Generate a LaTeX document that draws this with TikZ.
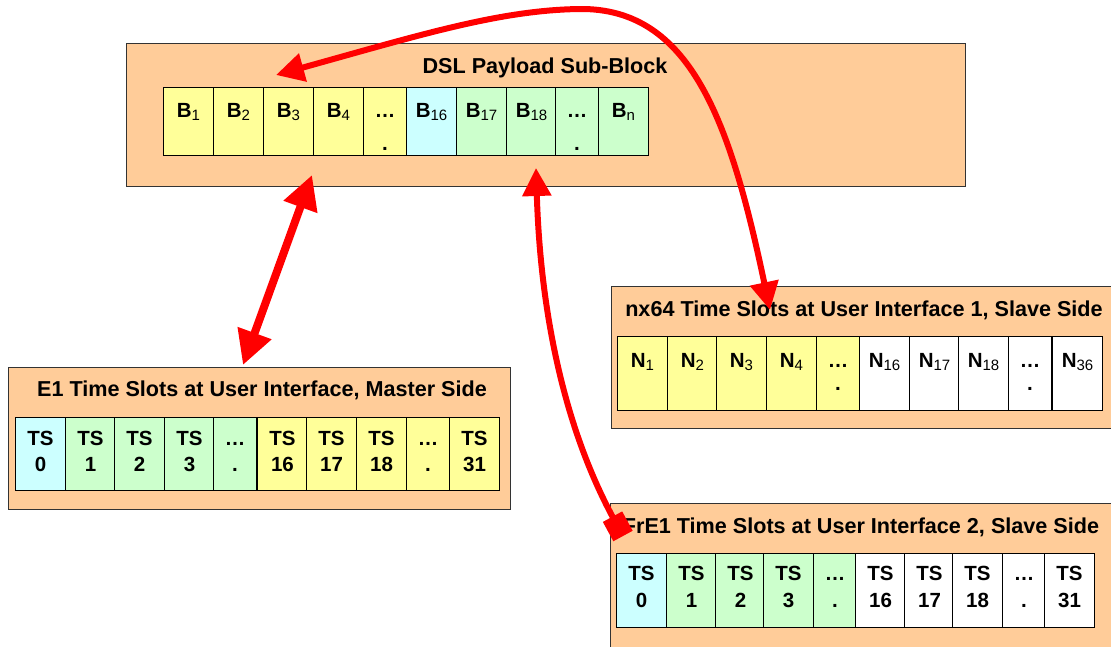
\documentclass[tikz,border=0pt]{standalone}
\usepackage{fontspec}
\setmainfont{Liberation Sans}
\usetikzlibrary{arrows.meta, positioning}

\definecolor{slotorange}{HTML}{FFCC99}
\definecolor{slotyellow}{HTML}{FFFF99}
\definecolor{slotgreen}{HTML}{CCFFCC}
\definecolor{slotcyan}{HTML}{CCFFFF}

\newcommand{\subidx}[1]{\raisebox{-3pt}{\fontsize{15}{15}\selectfont\mdseries #1}}
\newcommand{\twolines}[2]{\begin{tabular}[t]{@{}c@{}}#1\\#2\end{tabular}}

\tikzset{
	block/.style={draw=black!80, line width=1.2pt, fill=slotorange, anchor=north west, inner sep=0pt},
	blocktitle/.style={font=\fontsize{21.6}{26}\selectfont\bfseries, anchor=base, inner sep=0pt},
	slot/.style={draw, line width=1pt, anchor=north west, inner sep=0pt, minimum width=50pt},
	narrow/.style={minimum width=43pt},
	dslslot/.style={slot, text height=30pt, text depth=38pt, font=\fontsize{20.5}{33}\selectfont\bfseries},
	eoneslot/.style={slot, text height=28pt, text depth=45pt, font=\fontsize{20.5}{26}\selectfont\bfseries},
	nxslot/.style={slot, text height=31pt, text depth=43pt, font=\fontsize{20.5}{23}\selectfont\bfseries},
	frslot/.style={slot, text height=27pt, text depth=47pt, font=\fontsize{20.5}{27}\selectfont\bfseries},
	link/.style={draw=red, line width=6pt, >={Triangle[length=28pt, width=28pt]}}
}

\begin{document}
\begin{tikzpicture}[x=1pt, y=-1pt]

	\useasboundingbox (0,0) rectangle (1111,646);
	\clip (0,0) rectangle (1111,646);

%payload sub-block
	\node [block, minimum width=839pt, minimum height=143pt] (dsl) at (126,43){};
	\node [blocktitle] (dsltitle) at (545,73){DSL Payload Sub-Block};
	\node [dslslot, fill=slotyellow] (b1) at (163,87){B\subidx{1}};
	\node [dslslot, fill=slotyellow] (b2) at (213,87){B\subidx{2}};
	\node [dslslot, fill=slotyellow] (b3) at (263,87){B\subidx{3}};
	\node [dslslot, fill=slotyellow] (b4) at (313,87){B\subidx{4}};
	\node [dslslot, narrow, fill=slotyellow] (bdotsA) at (363,87){\twolines{…}{.}};
	\node [dslslot, fill=slotcyan] (b16) at (406,87){B\subidx{16}};
	\node [dslslot, fill=slotgreen] (b17) at (456,87){B\subidx{17}};
	\node [dslslot, fill=slotgreen] (b18) at (506,87){B\subidx{18}};
	\node [dslslot, narrow, fill=slotgreen] (bdotsB) at (555,87){\twolines{…}{.}};
	\node [dslslot, fill=slotgreen] (bn) at (598,87){B\subidx{n}};

%E1, master side
	\node [block, minimum width=502pt, minimum height=142pt] (eone) at (8,367){};
	\node [blocktitle] (eonetitle) at (262,396){E1 Time Slots at User Interface, Master Side};
	\node [eoneslot, fill=slotcyan] (ts0) at (15,417){\twolines{TS}{0}};
	\node [eoneslot, fill=slotgreen] (ts1) at (65,417){\twolines{TS}{1}};
	\node [eoneslot, fill=slotgreen] (ts2) at (114,417){\twolines{TS}{2}};
	\node [eoneslot, fill=slotgreen] (ts3) at (164,417){\twolines{TS}{3}};
	\node [eoneslot, narrow, fill=slotgreen] (tsdotsA) at (213,417){\twolines{…}{.}};
	\node [eoneslot, fill=slotyellow] (ts16) at (257,417){\twolines{TS}{16}};
	\node [eoneslot, fill=slotyellow] (ts17) at (306,417){\twolines{TS}{17}};
	\node [eoneslot, fill=slotyellow] (ts18) at (356,417){\twolines{TS}{18}};
	\node [eoneslot, narrow, fill=slotyellow] (tsdotsB) at (406,417){\twolines{…}{.}};
	\node [eoneslot, fill=slotyellow] (ts31) at (449,417){\twolines{TS}{31}};

%nx64, slave side
	\node [block, minimum width=520pt, minimum height=142pt] (nx) at (611,286){};
	\node [blocktitle] (nxtitle) at (864,316){nx64 Time Slots at User Interface 1, Slave Side};
	\node [nxslot, fill=slotyellow] (n1) at (617,336){N\subidx{1}};
	\node [nxslot, fill=slotyellow] (n2) at (667,336){N\subidx{2}};
	\node [nxslot, fill=slotyellow] (n3) at (716,336){N\subidx{3}};
	\node [nxslot, fill=slotyellow] (n4) at (766,336){N\subidx{4}};
	\node [nxslot, narrow, fill=slotyellow] (ndotsA) at (816,336){\twolines{…}{.}};
	\node [nxslot, fill=white] (n16) at (859,336){N\subidx{16}};
	\node [nxslot, fill=white] (n17) at (909,336){N\subidx{17}};
	\node [nxslot, fill=white] (n18) at (958,336){N\subidx{18}};
	\node [nxslot, narrow, fill=white] (ndotsB) at (1008,336){\twolines{…}{.}};
	\node [nxslot, fill=white] (n36) at (1052,336){N\subidx{36}};

%FrE1, slave side
	\node [block, minimum width=520pt, minimum height=160pt] (fr) at (610,503){};
	\node [blocktitle] (frtitle) at (861,533){FrE1 Time Slots at User Interface 2, Slave Side};
	\node [frslot, fill=slotcyan] (fts0) at (616,553){\twolines{TS}{0}};
	\node [frslot, fill=slotgreen] (fts1) at (666,553){\twolines{TS}{1}};
	\node [frslot, fill=slotgreen] (fts2) at (715,553){\twolines{TS}{2}};
	\node [frslot, fill=slotgreen] (fts3) at (763,553){\twolines{TS}{3}};
	\node [frslot, narrow, fill=slotgreen] (ftsdotsA) at (813,553){\twolines{…}{.}};
	\node [frslot, fill=white] (fts16) at (855,553){\twolines{TS}{16}};
	\node [frslot, fill=white] (fts17) at (904,553){\twolines{TS}{17}};
	\node [frslot, fill=white] (fts18) at (952,553){\twolines{TS}{18}};
	\node [frslot, narrow, fill=white] (ftsdotsB) at (1002,553){\twolines{…}{.}};
	\node [frslot, fill=white] (fts31) at (1044,553){\twolines{TS}{31}};

%arrow ends
	\coordinate (eoneend) at (243,365);
	\coordinate (dslendA) at (312,175);
	\coordinate (frend) at (623,536);
	\coordinate (dslendB) at (536,168);
	\coordinate (dslendC) at (276,75);
	\coordinate (arcpeak) at (580,9);
	\coordinate (nxend) at (770,310);

	\draw [link, line width=8pt, <->, >={Triangle[length=34pt, width=34pt]}] (eoneend) -- (dslendA);
	\draw [link, {Square[length=22pt, width=22pt]}->] (frend) .. controls (560,420) and (540,300) .. (dslendB);
	\draw [link, <->] (dslendC) .. controls (420,35) and (500,10) .. (arcpeak) .. controls (690,8) and (730,120) .. (nxend);

\end{tikzpicture}
\end{document}
